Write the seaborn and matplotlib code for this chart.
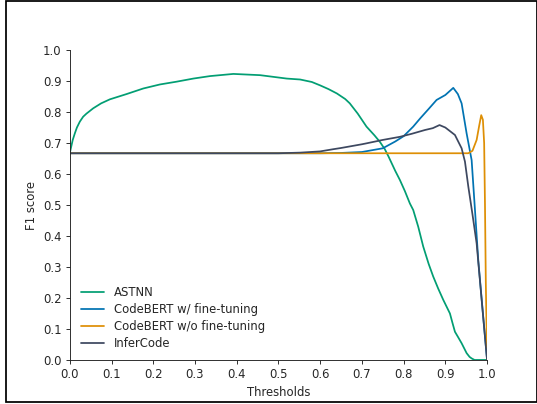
import numpy as np
import pandas as pd
import matplotlib
matplotlib.use("Agg")
import matplotlib.pyplot as plt
import seaborn as sns
from matplotlib.patches import Rectangle

# values
astnn_x = [0.0, 0.002, 0.007, 0.012, 0.017, 0.024, 0.032, 0.04, 0.056, 0.075, 0.096, 0.136,
           0.176, 0.216, 0.256, 0.296, 0.336, 0.392, 0.456, 0.52, 0.552, 0.58, 0.6, 0.62,
           0.64, 0.66, 0.671, 0.69, 0.711, 0.73, 0.743, 0.755, 0.764, 0.78, 0.791, 0.803,
           0.815, 0.823, 0.835, 0.847, 0.86, 0.871, 0.883, 0.895, 0.911, 0.917, 0.923, 0.93,
           0.939, 0.951, 0.958, 0.963, 0.97, 1.0]
astnn_y = [0.667, 0.68, 0.71, 0.731, 0.75, 0.769, 0.785, 0.795, 0.812, 0.828, 0.841, 0.858,
           0.876, 0.889, 0.898, 0.908, 0.916, 0.923, 0.919, 0.908, 0.905, 0.897, 0.886, 0.874,
           0.86, 0.842, 0.828, 0.795, 0.753, 0.725, 0.704, 0.68, 0.656, 0.61, 0.581, 0.545,
           0.505, 0.484, 0.43, 0.366, 0.31, 0.269, 0.23, 0.194, 0.15, 0.12, 0.091, 0.075,
           0.054, 0.022, 0.01, 0.005, 0.0, 0.0]

bert_ft_x = [0.0, 0.6, 0.65, 0.7, 0.75, 0.78, 0.8, 0.823, 0.84, 0.86, 0.879, 0.9, 0.919,
             0.93, 0.939, 0.951, 0.963, 0.971, 0.979, 0.99, 1.0]
bert_ft_y = [0.667, 0.667, 0.668, 0.671, 0.683, 0.705, 0.722, 0.753, 0.78, 0.81, 0.839, 0.855, 0.878,
             0.858, 0.828, 0.731, 0.645, 0.484, 0.32, 0.15, 0.0]

bert_noft_x = [0.0, 0.955, 0.965, 0.975, 0.981, 0.986, 0.99, 0.993, 0.995, 0.997, 1.0]
bert_noft_y = [0.667, 0.667, 0.675, 0.71, 0.755, 0.79, 0.775, 0.7, 0.5, 0.25, 0.0]

infer_x = [0.0, 0.5, 0.552, 0.6, 0.631, 0.65, 0.7, 0.711, 0.75, 0.791, 0.82, 0.851, 0.87,
           0.886, 0.9, 0.923, 0.939, 0.947, 0.955, 0.965, 0.975, 0.988, 1.0]
infer_y = [0.667, 0.667, 0.669, 0.673, 0.68, 0.684, 0.696, 0.699, 0.71, 0.72, 0.73, 0.742, 0.748,
           0.758, 0.75, 0.726, 0.683, 0.64, 0.56, 0.47, 0.376, 0.18, 0.0]

labels = ["ASTNN", "CodeBERT w/ fine-tuning", "CodeBERT w/o fine-tuning", "InferCode"]
colors = ["#029e73", "#0173b2", "#de8f05", "#3d4860"]

frames = []
for name, xs, ys in zip(labels,
                        [astnn_x, bert_ft_x, bert_noft_x, infer_x],
                        [astnn_y, bert_ft_y, bert_noft_y, infer_y]):
    frames.append(pd.DataFrame({"Thresholds": xs, "F1 score": ys, "model": name}))
df = pd.concat(frames, ignore_index=True)

sns.set_style("ticks")
plt.rcParams["font.family"] = ["DejaVu Sans"]

fig = plt.figure(figsize=(6.393, 4.81), dpi=84)
ax = fig.add_axes([0.130, 0.109, 0.777, 0.767])

sns.lineplot(data=df, x="Thresholds", y="F1 score", hue="model", hue_order=labels,
             palette=colors, linewidth=1.5, estimator=None, sort=False, ax=ax)

ax.set_xlim(0, 1)
ax.set_ylim(0, 1)
ax.set_xticks(np.arange(0, 1.01, 0.1))
ax.set_yticks(np.arange(0, 1.01, 0.1))
sns.despine(ax=ax)
ax.legend(loc="lower left", frameon=False, borderaxespad=0.3, labelspacing=0.33,
          bbox_to_anchor=(0.007, 0.007))

# black frame around the picture
fig.patches.append(Rectangle((5.5 / 537, 1.5 / 404), 531 / 537, 401 / 404,
                             transform=fig.transFigure, fill=False,
                             edgecolor="black", linewidth=1.5, zorder=10))

fig.savefig("out.png", dpi=84)
